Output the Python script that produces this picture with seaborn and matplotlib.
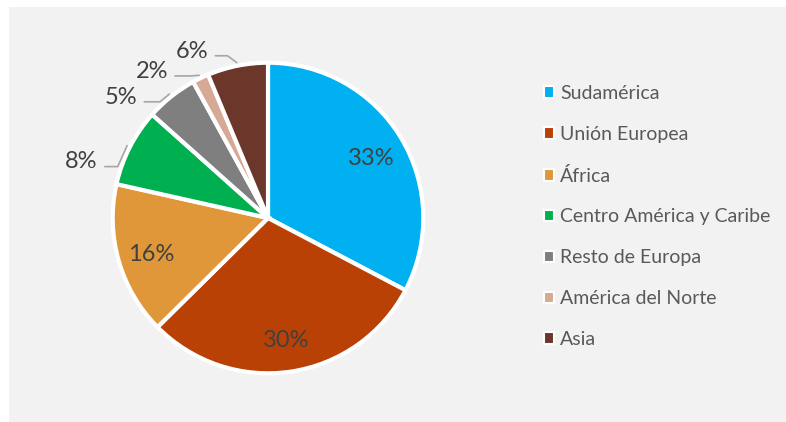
#pie chart of regions
import matplotlib
matplotlib.use('Agg')
import matplotlib.pyplot as plt
import matplotlib.patches as mpatches
import seaborn as sns
import numpy as np

regions = ['Sudamérica', 'Unión Europea', 'África', 'Centro América y Caribe',
           'Resto de Europa', 'América del Norte', 'Asia']
shares = [32.7, 29.9, 15.9, 8.1, 5.4, 1.7, 6.3]
colors = ['#00B0F0', '#BA4105', '#E0973A', '#00B050', '#7F7F7F', '#D6A995', '#6B372A']

sns.set_theme(style='white')
plt.rcParams['font.family'] = ['Lato', 'DejaVu Sans']

fig = plt.figure(figsize=(7.86, 4.22), dpi=100)
fig.patch.set_facecolor('white')
# gray chart area
bg = mpatches.Rectangle((9 / 786, 0), 1, 1 - 7 / 422, transform=fig.transFigure,
                        facecolor='#F2F2F2', edgecolor='none', zorder=-10)
fig.add_artist(bg)

ax = fig.add_axes([63 / 786, -1 / 422, 410 / 786, 410 / 422])
ax.set_zorder(1)
ax.set_facecolor('none')
palette = sns.color_palette(colors)

wedges, _ = ax.pie(shares, colors=palette, startangle=90, counterclock=False,
                   wedgeprops={'edgecolor': 'white', 'linewidth': 3})
lim = 1.32
ax.set_xlim(-lim, lim)
ax.set_ylim(-lim, lim)
ax.set_aspect('equal')
ax.axis('off')

total = sum(shares)
txt_col = '#404040'
for w, val in zip(wedges, shares):
    mid = np.deg2rad((w.theta1 + w.theta2) / 2)
    pct = '%d%%' % round(val / total * 100)
    if val > 10:
        r = 0.78
        ax.text(r * np.cos(mid), r * np.sin(mid) - 0.02, pct, ha='center', va='center',
                fontsize=17, color=txt_col)
    else:
        # outside label with a leader line
        ang = mid + np.deg2rad(8)
        r = 1.16
        tx, ty = r * np.cos(ang), r * np.sin(ang) - 0.02
        ax.text(tx, ty, pct, ha='right', va='center', fontsize=17, color=txt_col)
        ex, ey = 1.02 * np.cos(mid), 1.02 * np.sin(mid)
        ax.plot([tx + 0.045, ex - 0.06, ex], [ty - 0.03, ty - 0.03, ey],
                color='#A6A6A6', lw=1.2, clip_on=False)

handles = [mpatches.Patch(facecolor=c, edgecolor='white', linewidth=1.5) for c in palette]
leg = fig.legend(handles, regions, loc='upper left', bbox_to_anchor=(534 / 786, 1 - 75 / 422),
                 frameon=False, fontsize=14, handlelength=0.55, handleheight=0.55,
                 handletextpad=0.3, labelspacing=1.23, borderpad=0)
leg.set_zorder(2)
for t in leg.get_texts():
    t.set_color('#595959')

fig.savefig('out.png', dpi=100, facecolor=fig.get_facecolor())
